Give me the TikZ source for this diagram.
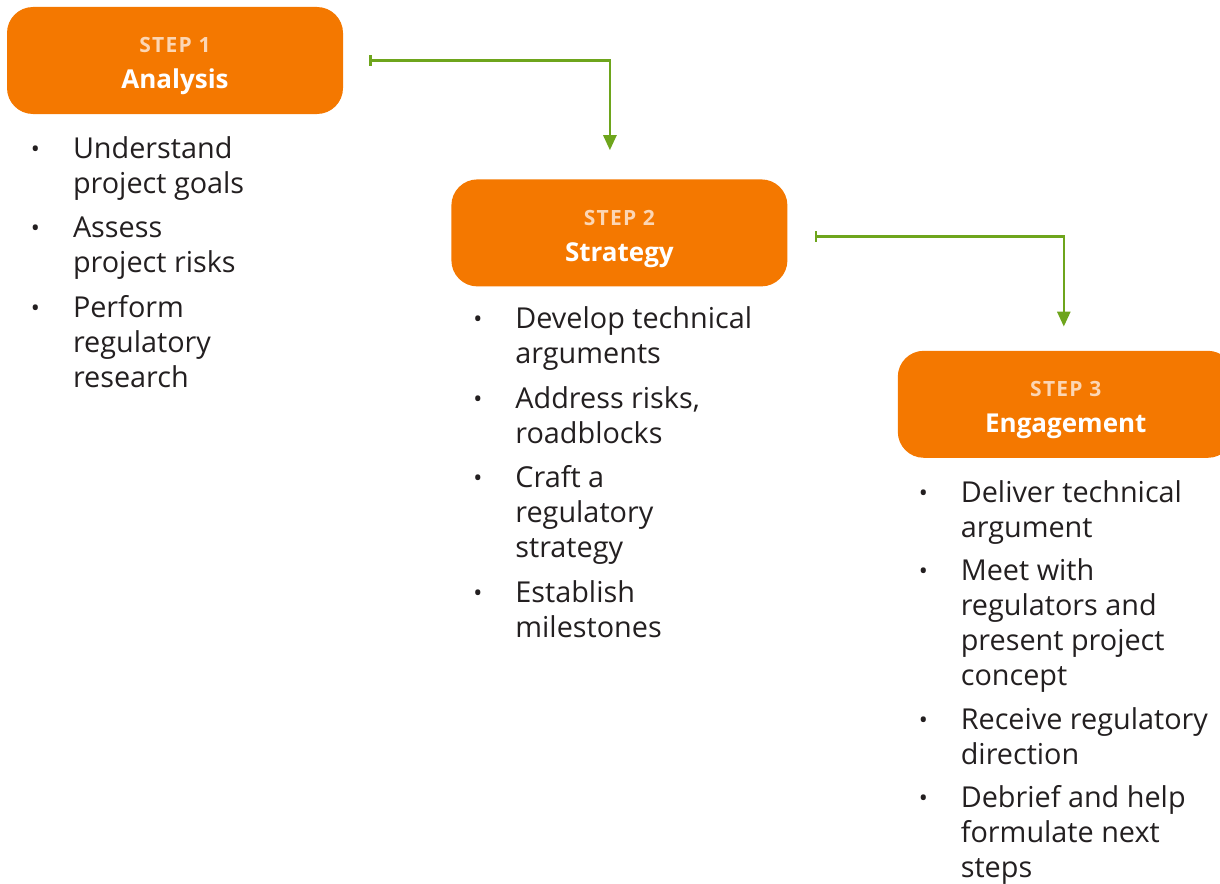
\documentclass[tikz,border=0pt]{standalone}
\usepackage{fontspec}
\setmainfont{Open Sans}
\newfontfamily\tagfont[LetterSpace=6]{Open Sans}
\usepackage{tikz}
\usetikzlibrary{arrows.meta,positioning}
\definecolor{steporange}{HTML}{F47800}
\definecolor{steppeach}{HTML}{FCD6B4}
\definecolor{flowgreen}{HTML}{6EA51C}
\definecolor{listtext}{HTML}{231F20}
\newcommand{\steptag}[1]{\rule{0pt}{27pt}{\tagfont\bfseries\fontsize{21}{24}\selectfont\color{steppeach}#1}}
\newcommand{\itm}{\llap{\raisebox{1pt}{\fontsize{24}{24}\selectfont\textbullet}\hspace{33pt}}}
\tikzset{
    stepbox/.style={
                fill=steporange,
                text=white,
                rounded corners=26pt,
                minimum width=336pt,
                minimum height=107pt,
                align=center,
                font=\bfseries\fontsize{26}{30}\selectfont
            },
        steplist/.style={
                anchor=north west,
                inner sep=0pt,
                align=left,
                text=listtext,
                font=\fontsize{28.8}{35}\selectfont
            },
        flowarrow/.style={
                draw=flowgreen,
                line width=2.6pt,
                {Bar[width=11pt,line width=2.6pt]}-{Triangle[width=13pt,length=15pt]}
            },
}
\begin{document}
\begin{tikzpicture}[x=1pt,y=-1pt]
\useasboundingbox (0,0) rectangle (1220,883);
% Steps
\node[stepbox] (box1) at (175,60.5) {\steptag{STEP 1}\\[6pt]Analysis};
\node[stepbox, below right=65pt and 108pt of box1] (box2) {\steptag{STEP 2}\\[6pt]Strategy};
\node[stepbox, below right=64pt and 110pt of box2] (box3) {\steptag{STEP 3}\\[6pt]Engagement};
% Lists
\node[steplist] (list1) at ([xshift=66pt,yshift=-22pt]box1.south west)
  {\itm Understand\\project goals\\[9.5pt]
   \itm Assess\\project risks\\[9.5pt]
   \itm Perform\\regulatory\\research};
\node[steplist] (list2) at ([xshift=64pt,yshift=-20pt]box2.south west)
  {\itm Develop technical\\arguments\\[9.5pt]
   \itm Address risks,\\roadblocks\\[9.5pt]
   \itm Craft a\\regulatory\\strategy\\[9.5pt]
   \itm Establish\\milestones};
\node[steplist] (list3) at ([xshift=63pt,yshift=-22pt]box3.south west)
  {\itm Deliver technical\\argument\\[8.5pt]
   \itm Meet with\\regulators and\\present project\\concept\\[8.5pt]
   \itm Receive regulatory\\direction\\[8.5pt]
   \itm Debrief and help\\formulate next\\steps};
% Arrows
\coordinate (from1) at ([xshift=26pt]box1.east);
\coordinate (to2) at ([xshift=-9.5pt,yshift=29pt]box2.north);
\coordinate (from2) at ([xshift=27pt,yshift=-3.5pt]box2.east);
\coordinate (to3) at ([xshift=-2pt,yshift=24pt]box3.north);
\draw[flowarrow] (from1) -| (to2);
\draw[flowarrow] (from2) -| (to3);
\end{tikzpicture}
\end{document}
